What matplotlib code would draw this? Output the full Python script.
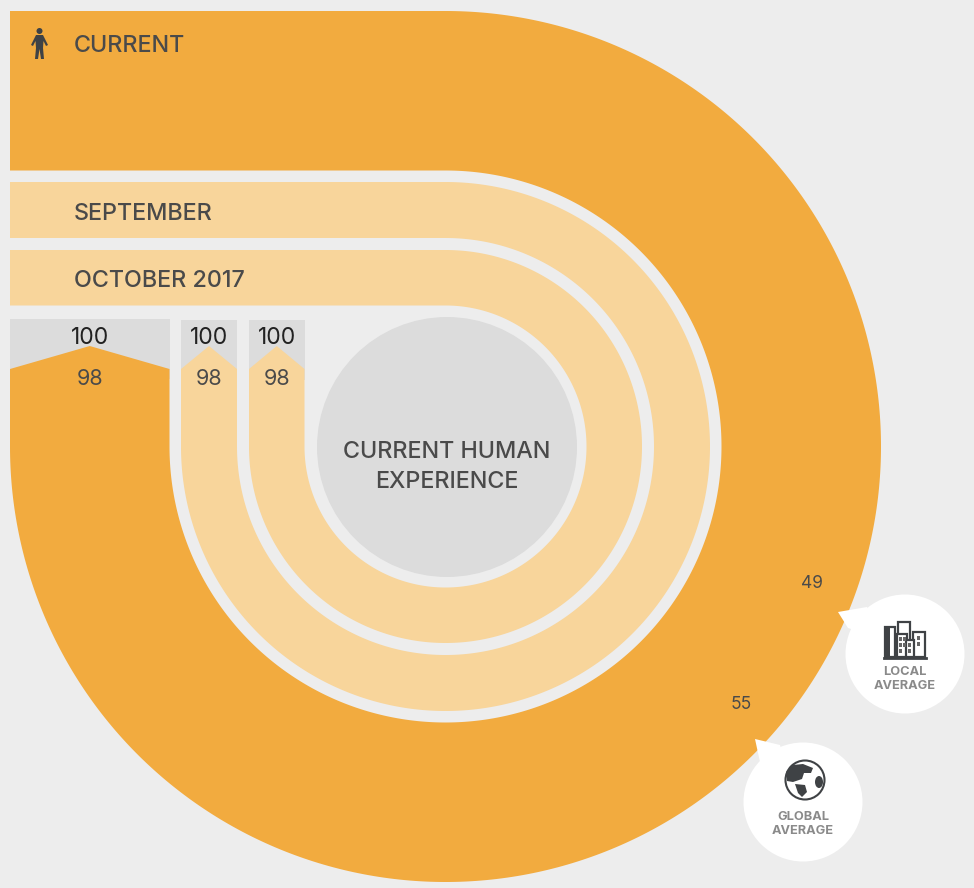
from matplotlib import pyplot as plt
from matplotlib.patches import Circle, Polygon, Rectangle, Ellipse
import numpy as np

# chart values
band_names = ["CURRENT", "SEPTEMBER", "OCTOBER 2017"]
band_values = [98, 98, 98]
band_max = [100, 100, 100]
local_average = 49
global_average = 55
center_label = "CURRENT HUMAN\nEXPERIENCE"
local_label = "LOCAL\nAVERAGE"
global_label = "GLOBAL\nAVERAGE"

# radii of the bands in pixels, outer -> inner
band_outer = [435.5, 264.5, 196.5]
band_inner = [276, 208.5, 141]
band_colors = ["#F2AB3F", "#F8D59B", "#F8D59B"]
name_y = [46.5, 213.5, 280.5]
shoulder_drop = [23, 23, 23]

BG = "#EDEDED"
GRAY = "#DCDCDC"
TEXT = "#4A4A4A"
FONT = "Inter"
cx, cy = 445.5, 446.5
left = 10
top_of_scale = 320
px_per_unit = 13


def value_to_y(v, vmax):
    # 100 sits at the top of the grey block, lower values hang below it
    return top_of_scale + (vmax - v) * px_per_unit


def band_polygon(r_out, r_in, tip_y, shoulder_y):
    t = np.radians(np.linspace(0, 270, 400))
    outer = np.column_stack([cx + r_out * np.sin(t), cy - r_out * np.cos(t)])
    inner = np.column_stack([cx + r_in * np.sin(t), cy - r_in * np.cos(t)])[::-1]
    head = [[left, cy - r_out]]
    tail = [[cx - r_out, shoulder_y], [cx - (r_out + r_in) / 2, tip_y], [cx - r_in, shoulder_y]]
    end = [[left, cy - r_in]]
    return np.vstack([head, outer, tail, inner, end])


fig = plt.figure(figsize=(9.74, 8.88), dpi=100, facecolor=BG)
ax = fig.add_axes([0, 0, 1, 1])
ax.set_xlim(0, 974)
ax.set_ylim(888, 0)
ax.axis("off")

for i in range(3):
    ro, ri = band_outer[i], band_inner[i]
    tip = value_to_y(band_values[i], band_max[i])
    # grey block = the full 100
    ax.add_patch(Rectangle((cx - ro, top_of_scale - (1 if i == 0 else 0)), ro - ri, 60, color=GRAY, lw=0, zorder=1))
    ax.add_patch(Polygon(band_polygon(ro, ri, tip, tip + shoulder_drop[i]), closed=True, color=band_colors[i], lw=0, zorder=2))
    bx = cx - (ro + ri) / 2
    ax.text(bx, 337.5, str(band_max[i]), ha="center", va="center", fontsize=16.5, color="#222222", family=FONT, zorder=5)
    ax.text(bx, 378.5, str(band_values[i]), ha="center", va="center", fontsize=15.5, color=TEXT, family=FONT, zorder=5)
    ax.text(74, name_y[i], band_names[i], ha="left", va="center", fontsize=16.8, color=TEXT, family=FONT, weight="medium", zorder=5)

ax.add_patch(Circle((447, 447), 130, color=GRAY, lw=0, zorder=2))
ax.text(447, 467, center_label, ha="center", va="center", fontsize=16.8, color=TEXT, family=FONT, weight="medium", linespacing=1.47, zorder=5)

ax.text(812, 583, str(local_average), ha="center", va="center", fontsize=12.5, color=TEXT, family=FONT, zorder=5)
ax.text(741, 704, str(global_average), ha="center", va="center", fontsize=12.5, color=TEXT, family=FONT, zorder=5)

# callout bubbles
for (bx, by), tail in [((905, 654), [(838, 612), (867, 607), (885, 640), (848, 628)]), ((803, 802), [(755, 739), (780, 745), (790, 780), (760, 762)])]:
    ax.add_patch(Circle((bx, by), 59.5, color="white", lw=0, zorder=3))
    ax.add_patch(Polygon(tail, closed=True, color="white", lw=0, zorder=3))
ax.text(905, 679, local_label, ha="center", va="center", fontsize=9.2, color="#8A8A8A", family=FONT, weight="bold", linespacing=1.3, zorder=5)
ax.text(803, 824, global_label, ha="center", va="center", fontsize=9.2, color="#8A8A8A", family=FONT, weight="bold", linespacing=1.3, zorder=5)

# person icon
ICON = "#3F4245"
ax.add_patch(Circle((39.5, 31), 3, color=ICON, lw=0, zorder=5))
ax.add_patch(Polygon([(36, 35), (43, 35), (48, 45), (46, 46), (43.5, 41), (43, 48), (44, 59), (41, 59), (39.5, 49), (38, 59), (35, 59), (36, 48), (35.5, 41), (33, 46), (31, 45)],
                     closed=True, color=ICON, lw=0, zorder=5))

# buildings icon
for x, y, w, h in [(885, 627, 10, 30), (898, 622, 12, 35), (913, 632, 12, 25), (897, 634, 10, 23), (906, 640, 8, 17)]:
    ax.add_patch(Rectangle((x, y), w, h, facecolor="white", edgecolor=ICON, lw=1.6, zorder=5))
ax.add_patch(Rectangle((886, 628), 4, 29, color=ICON, lw=0, zorder=6))
for x, y in [(899, 637), (903, 637), (899, 643), (903, 643), (908, 643), (917, 636), (917, 642), (899, 649), (908, 649)]:
    ax.add_patch(Rectangle((x, y), 3, 4, color="#666666", lw=0, zorder=6))
ax.plot([884, 926], [657.5, 657.5], color=ICON, lw=2, zorder=6)

# globe icon
ax.add_patch(Circle((805, 780), 19.5, facecolor="white", edgecolor=ICON, lw=1.5, zorder=5))
ax.add_patch(Polygon([(786, 772), (793, 765), (803, 764), (813, 768), (811, 773), (804, 773), (802, 779), (793, 782), (787, 781)], closed=True, color=ICON, lw=0, zorder=6))
ax.add_patch(Polygon([(795, 784), (805, 785), (807, 792), (802, 797), (798, 793)], closed=True, color=ICON, lw=0, zorder=6))
ax.add_patch(Ellipse((819, 782), 8, 12, color=ICON, lw=0, zorder=6))

fig.savefig("out.png", dpi=100, facecolor=BG)
